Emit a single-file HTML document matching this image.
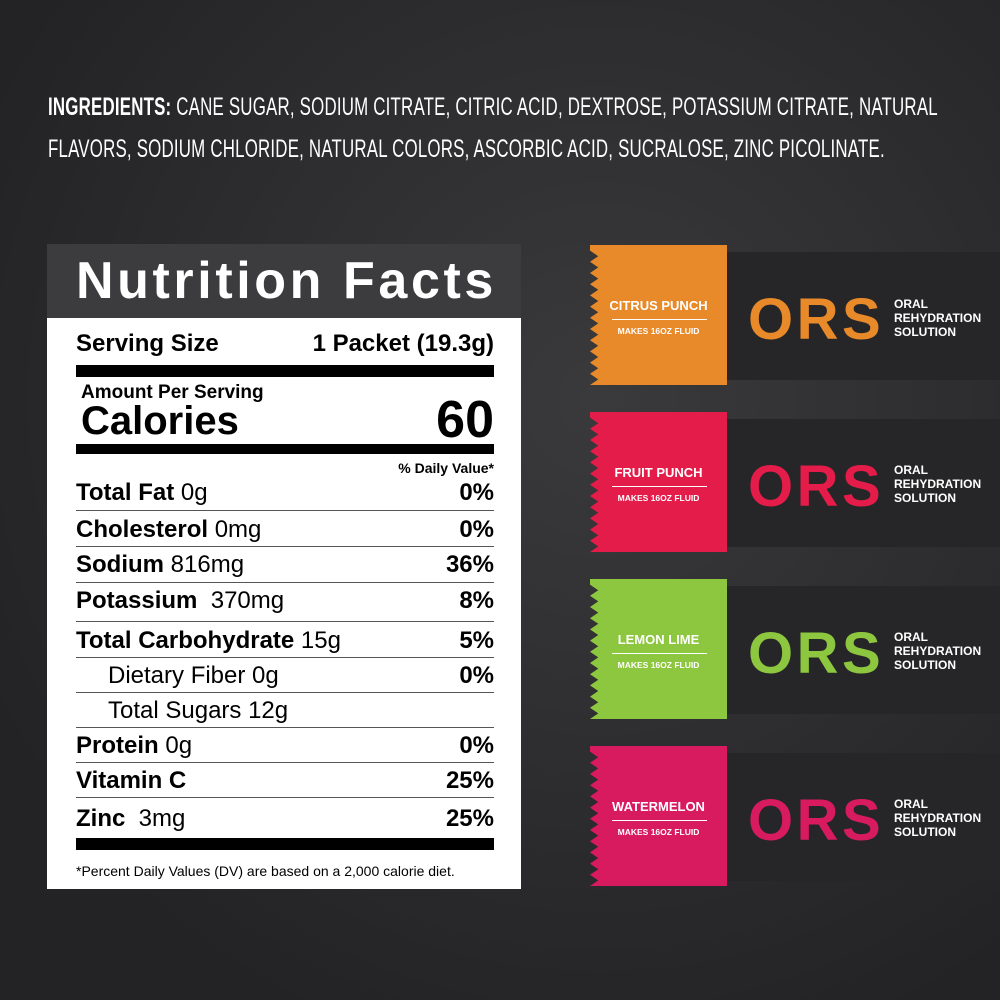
<!DOCTYPE html><html><head><style>
body{margin:0;width:1000px;height:1000px;overflow:hidden;background:radial-gradient(ellipse at 60% 40%,#3a3a3c,#232325 80%);font-family:"Liberation Sans",sans-serif;position:relative}
.a{position:absolute;white-space:nowrap}
.ing{left:48px;top:86px;color:#fff;font-size:25px;line-height:42px;transform:scaleX(.675);transform-origin:left top;width:1400px;letter-spacing:.3px}
.hd{left:47px;top:244px;width:474px;height:74px;background:#3c3c3e}
.lb{left:47px;top:318px;width:474px;height:571px;background:#fff}
.t{font-weight:bold;color:#000;font-size:24px}
.r{right:506px;text-align:right}
.bar{left:76px;width:418px;background:#000;position:absolute}
.ln{left:76px;width:418px;height:1px;background:#555;position:absolute}
.n{font-weight:normal}
.strip{position:absolute;left:720px;width:290px;background:#262628;border-radius:4px}
.pk{position:absolute;left:590px;width:137px;height:140px;clip-path:polygon(0 0,100% 0,100% 44%,103% 50%,100% 56%,100% 100%,0 100%,6% 96%,0 92%,6% 88%,0 84%,6% 80%,0 76%,6% 72%,0 68%,6% 64%,0 60%,6% 56%,0 52%,6% 48%,0 44%,6% 40%,0 36%,6% 32%,0 28%,6% 24%,0 20%,6% 16%,0 12%,6% 8%,0 4%)}
.pn{position:absolute;left:0;width:137px;text-align:center;color:#fff;font-weight:bold;font-size:13px;top:53px}
.pl{position:absolute;left:22px;width:95px;height:1px;background:#fff;top:74px}
.pm{position:absolute;left:0;width:137px;text-align:center;color:#fff;font-weight:bold;font-size:8.5px;top:81px}
.ors{position:absolute;left:748px;font-size:58px;font-weight:bold;letter-spacing:3.5px}
.os{position:absolute;left:894px;color:#fff;font-weight:bold;font-size:12px;line-height:14px}
</style></head><body>
<div class="a ing"><b>INGREDIENTS:</b> CANE SUGAR, SODIUM CITRATE, CITRIC ACID, DEXTROSE, POTASSIUM CITRATE, NATURAL<br>FLAVORS, SODIUM CHLORIDE, NATURAL COLORS, ASCORBIC ACID, SUCRALOSE, ZINC PICOLINATE.</div>
<div class="a hd"></div><div class="a lb"></div>
<div class="a" style="left:76px;top:251px;color:#fff;font-weight:bold;font-size:52px;letter-spacing:3.6px">Nutrition Facts</div>
<div class="a t" style="left:76px;top:330px">Serving Size</div><div class="a t r" style="top:330px">1 Packet (19.3g)</div>
<div class="bar" style="top:365px;height:12px"></div>
<div class="a t" style="left:81px;top:382px;font-size:19px">Amount Per Serving</div>
<div class="a t" style="left:81px;top:399px;font-size:40px">Calories</div>
<div class="a t r" style="top:390px;font-size:52px">60</div>
<div class="bar" style="top:444px;height:10px"></div>
<div class="a t r" style="top:460px;font-size:14px">% Daily Value*</div>
<div class="a t" style="left:76px;top:479px">Total Fat <span class="n">0g</span></div><div class="a t r" style="top:479px">0%</div>
<div class="ln" style="top:510px"></div>
<div class="a t" style="left:76px;top:516px">Cholesterol <span class="n">0mg</span></div><div class="a t r" style="top:516px">0%</div>
<div class="ln" style="top:546px"></div>
<div class="a t" style="left:76px;top:551px">Sodium <span class="n">816mg</span></div><div class="a t r" style="top:551px">36%</div>
<div class="ln" style="top:582px"></div>
<div class="a t" style="left:76px;top:587px">Potassium <span class="n">&nbsp;370mg</span></div><div class="a t r" style="top:587px">8%</div>
<div class="ln" style="top:621px"></div>
<div class="a t" style="left:76px;top:627px">Total Carbohydrate <span class="n">15g</span></div><div class="a t r" style="top:627px">5%</div>
<div class="ln" style="top:657px"></div>
<div class="a t n" style="left:108px;top:662px;font-weight:normal">Dietary Fiber 0g</div><div class="a t r" style="top:662px">0%</div>
<div class="ln" style="top:692px"></div>
<div class="a t" style="left:108px;top:697px;font-weight:normal">Total Sugars 12g</div>
<div class="ln" style="top:727px"></div>
<div class="a t" style="left:76px;top:732px">Protein <span class="n">0g</span></div><div class="a t r" style="top:732px">0%</div>
<div class="ln" style="top:762px"></div>
<div class="a t" style="left:76px;top:767px">Vitamin C</div><div class="a t r" style="top:767px">25%</div>
<div class="ln" style="top:797px"></div>
<div class="a t" style="left:76px;top:805px">Zinc <span class="n">&nbsp;3mg</span></div><div class="a t r" style="top:805px">25%</div>
<div class="bar" style="top:838px;height:12px"></div>
<div class="a" style="left:76px;top:863px;font-size:14px;color:#000">*Percent Daily Values (DV) are based on a 2,000 calorie diet.</div>

<div class="strip" style="top:252px;height:128px"></div>
<div class="pk" style="top:245px;background:#e8892a"><div class="pn">CITRUS PUNCH</div><div class="pl"></div><div class="pm">MAKES 16OZ FLUID</div></div>
<div class="ors" style="top:286px;color:#e8892a">ORS</div><div class="os" style="top:297px">ORAL<br>REHYDRATION<br>SOLUTION</div>

<div class="strip" style="top:419px;height:128px"></div>
<div class="pk" style="top:412px;background:#e31c4a"><div class="pn">FRUIT PUNCH</div><div class="pl"></div><div class="pm">MAKES 16OZ FLUID</div></div>
<div class="ors" style="top:453px;color:#e31c4a">ORS</div><div class="os" style="top:463px">ORAL<br>REHYDRATION<br>SOLUTION</div>

<div class="strip" style="top:586px;height:128px"></div>
<div class="pk" style="top:579px;background:#8dc63f"><div class="pn">LEMON LIME</div><div class="pl"></div><div class="pm">MAKES 16OZ FLUID</div></div>
<div class="ors" style="top:620px;color:#8dc63f">ORS</div><div class="os" style="top:630px">ORAL<br>REHYDRATION<br>SOLUTION</div>

<div class="strip" style="top:753px;height:128px"></div>
<div class="pk" style="top:746px;background:#d81b5f"><div class="pn">WATERMELON</div><div class="pl"></div><div class="pm">MAKES 16OZ FLUID</div></div>
<div class="ors" style="top:787px;color:#d81b5f">ORS</div><div class="os" style="top:797px">ORAL<br>REHYDRATION<br>SOLUTION</div>
</body></html>
